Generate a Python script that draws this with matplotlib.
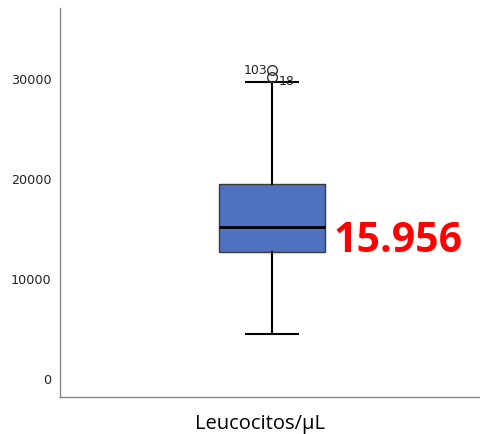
import matplotlib
matplotlib.use('Agg')
import matplotlib.pyplot as plt

# ---- data
statLabel = 'Leucocitos/µL'
q1, med, q3 = 12600, 15100, 19450
whisLo, whisHi = 4400, 29600
flierValues = [30800, 30100]
flierIds = ['103', '18']
meanText = '15.956'
yticks = [0, 10000, 20000, 30000]


def main():
    fig = plt.figure(figsize=(4.81, 4.35), dpi=100)
    ax = fig.add_axes([0.1247, 0.085, 0.873, 0.894])

    stats = [{
        'med': med, 'q1': q1, 'q3': q3,
        'whislo': whisLo, 'whishi': whisHi,
        'fliers': flierValues, 'label': '',
    }]
    ax.bxp(
        stats, positions=[0], widths=0.252, patch_artist=True,
        boxprops=dict(facecolor='#5071bf', edgecolor='#3a3a3a', linewidth=1.0),
        medianprops=dict(color='black', linewidth=2.0),
        whiskerprops=dict(color='black', linewidth=1.5),
        capprops=dict(color='black', linewidth=1.5),
        flierprops=dict(marker='o', markerfacecolor='none', markeredgecolor='#333333',
                        markersize=7, markeredgewidth=1.0),
    )

    # outlier ids
    ax.text(-0.012, flierValues[0] + 100, flierIds[0], ha='right', va='center',
            fontsize=9, color='#222222')
    ax.text(0.015, flierValues[1] - 300, flierIds[1], ha='left', va='center',
            fontsize=9, color='#222222')

    # mean annotation
    ax.text(0.147, 13800, meanText, ha='left', va='center', color='red',
            fontsize=29.5, fontweight='bold', family='Open Sans')

    ax.set_xlim(-0.505, 0.495)
    ax.set_ylim(-1900, 37000)
    ax.set_yticks(yticks)
    ax.set_yticklabels([str(t) for t in yticks], fontsize=9.2, color='#222222')
    ax.tick_params(axis='y', length=0, pad=6)
    ax.set_xticks([])
    ax.text(0.476, -0.067, statLabel, transform=ax.transAxes, ha='center',
            va='center', family='Open Sans', fontsize=14.5)

    for s in ['top', 'right']:
        ax.spines[s].set_visible(False)
    for s in ['left', 'bottom']:
        ax.spines[s].set_color('#888888')
        ax.spines[s].set_linewidth(1.0)

    fig.savefig('out.png', dpi=100)


if __name__ == '__main__':
    main()
